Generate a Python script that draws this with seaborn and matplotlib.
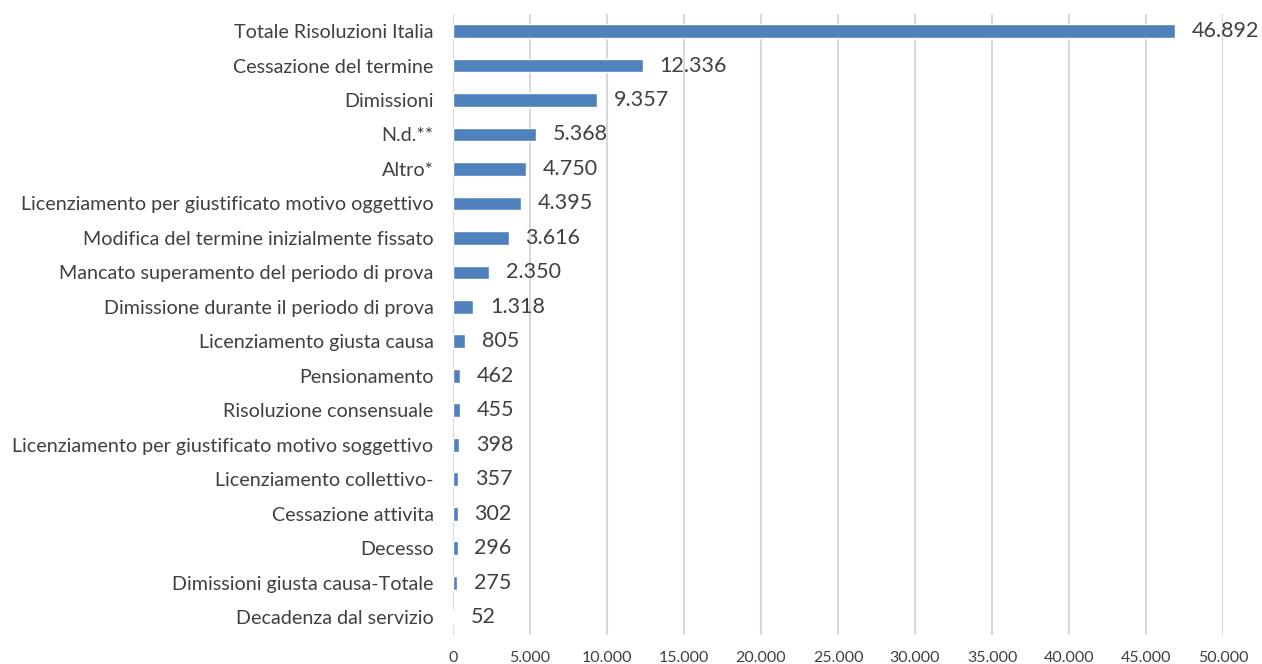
import pandas as pd
import numpy as np
import seaborn as sns
import matplotlib.pyplot as plt
from matplotlib.ticker import FuncFormatter

categorie = ['Totale Risoluzioni Italia', 'Cessazione del termine', 'Dimissioni', 'N.d.**', 'Altro*',
             'Licenziamento per giustificato motivo oggettivo', 'Modifica del termine inizialmente fissato',
             'Mancato superamento del periodo di prova', 'Dimissione durante il periodo di prova',
             'Licenziamento giusta causa', 'Pensionamento', 'Risoluzione consensuale',
             'Licenziamento per giustificato motivo soggettivo', 'Licenziamento collettivo-',
             'Cessazione attivita', 'Decesso', 'Dimissioni giusta causa-Totale', 'Decadenza dal servizio']
valori = [46892, 12336, 9357, 5368, 4750, 4395, 3616, 2350, 1318, 805, 462, 455, 398, 357, 302, 296, 275, 52]

df = pd.DataFrame({'Motivo': categorie, 'Valore': valori})

def it_fmt(v):
    return f'{int(round(v)):,}'.replace(',', '.')

sns.set_theme(style='white')
plt.rcParams['font.family'] = ['Lato', 'DejaVu Sans']
testo = '#404040'

fig = plt.figure(figsize=(12.62, 6.64), dpi=100)
ax = fig.add_axes([453 / 1262, 1 - 634.5 / 664, 770 / 1262, (634.5 - 13.8) / 664])
sns.barplot(data=df, x='Valore', y='Motivo', color='#4F81BD', saturation=1, width=0.4, ax=ax, zorder=3)

ax.set_xlim(0, 50000)
ax.set_xticks(np.arange(0, 50001, 5000))
ax.xaxis.set_major_formatter(FuncFormatter(lambda v, p: it_fmt(v)))
ax.grid(axis='x', color='#D9D9D9', linewidth=1.5, zorder=0)
ax.set_axisbelow(True)
for s in ax.spines.values():
    s.set_visible(False)
ax.set_xlabel('')
ax.set_ylabel('')
ax.tick_params(axis='x', labelsize=11.5, colors=testo, length=0, pad=12)
ax.tick_params(axis='y', labelsize=14.2, colors=testo, length=0, pad=14)

for i, v in enumerate(valori):
    ax.annotate(it_fmt(v), (v, i), xytext=(12, 0), textcoords='offset points',
                va='center', ha='left', fontsize=15.5, color=testo)

fig.savefig('out.png', dpi=100)
